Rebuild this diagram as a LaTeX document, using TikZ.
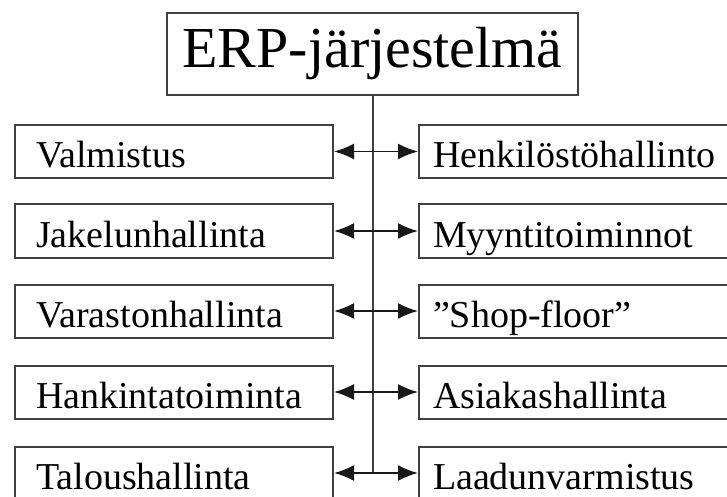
\documentclass[tikz,border=0pt]{standalone}
\usepackage{fontspec}
\setmainfont{Liberation Serif}
\usepackage{xcolor}
\usetikzlibrary{arrows.meta}

\newcommand{\leftlabel}[1]{\makebox[138pt][l]{#1}}
\newcommand{\rightlabel}[1]{\makebox[160pt][l]{#1}}

\begin{document}
\begin{tikzpicture}[x=0.5pt,y=-0.5pt,
    frame/.style={draw=black!75,line width=1pt},
    leftbox/.style={frame,anchor=west,minimum height=26.5pt,
      inner xsep=10.5pt,inner ysep=0pt,font=\fontsize{19}{21}\selectfont,
      text height=16pt,text depth=0pt},
    rightbox/.style={leftbox,inner xsep=7pt},
    link/.style={line width=0.9pt,black!90,{Latex[length=10pt,width=8pt]}-{Latex[length=10pt,width=8pt]}}]
      \useasboundingbox (0,0) rectangle (727,497);
      \clip (0,0) rectangle (727,497);
      % Title
      \node[frame,minimum width=205.5pt,minimum height=41pt,inner sep=0pt,
        font=\fontsize{29}{32}\selectfont] (erp) at (372.5,54) {ERP-järjestelmä};
      % Left column
      \node[leftbox] (valm) at (14,151.5) {\leftlabel{Valmistus}};
      \node[leftbox] (jake) at (14,231) {\leftlabel{Jakelunhallinta}};
      \node[leftbox] (vara) at (14,311) {\leftlabel{Varastonhallinta}};
      \node[leftbox] (hank) at (14,392) {\leftlabel{Hankintatoiminta}};
      \node[leftbox] (talo) at (14,473) {\leftlabel{Taloushallinta}};
      % Right column
      \node[rightbox] (henk) at (418,151.5) {\rightlabel{Henkilöstöhallinto}};
      \node[rightbox] (myyn) at (418,231) {\rightlabel{Myyntitoiminnot}};
      \node[rightbox] (shop) at (418,311) {\rightlabel{”Shop-floor”}};
      \node[rightbox] (asia) at (418,392) {\rightlabel{Asiakashallinta}};
      \node[rightbox] (laad) at (418,473) {\rightlabel{Laadunvarmistus}};
      % Spine
      \coordinate (end) at (erp.south |- talo.east);
      \draw[line width=1pt,black!75] (erp.south) -- (end);
      % Arrows
      \draw[link] (valm.east) -- (henk.west);
      \draw[link] (jake.east) -- (myyn.west);
      \draw[link] (vara.east) -- (shop.west);
      \draw[link] (hank.east) -- (asia.west);
      \draw[link] (talo.east) -- (laad.west);
    \end{tikzpicture}
\end{document}
